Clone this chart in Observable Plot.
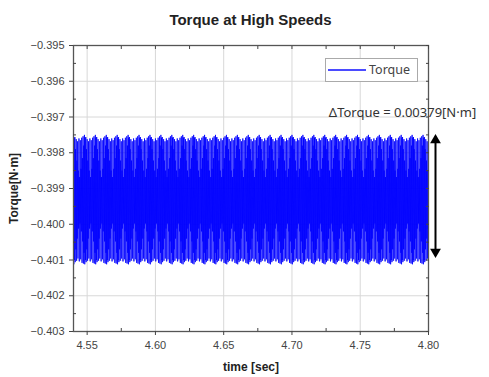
<!DOCTYPE html>
<html><head><meta charset="utf-8">
<script src="https://cdn.jsdelivr.net/npm/d3@7"></script>
<script src="https://cdn.jsdelivr.net/npm/@observablehq/plot@0.6"></script>
<style>
body{margin:0;background:#fff;}
#wrap{position:relative;width:489px;height:377px;font-family:"Liberation Sans",Arial,sans-serif;overflow:hidden;}
#title{height:36px;line-height:40px;text-align:center;padding-left:12px;font-weight:bold;font-size:15px;color:#222;box-sizing:border-box;}
#legend{position:absolute;left:325px;top:58px;width:93px;height:24px;border:1px solid #aaa;background:#fff;box-sizing:border-box;}
#legend .ln{position:absolute;left:2px;top:10px;width:38px;height:2px;background:#4b4bff;}
#legend .tx{position:absolute;left:43px;top:2px;font-family:"Noto Sans",sans-serif;font-size:12.5px;color:#444;line-height:18px;}
g[aria-label="x-axis label"] text, g[aria-label="y-axis label"] text{font-weight:bold;fill:#222;font-size:12px;}
</style></head>
<body>
<div id="wrap">
<div id="title">Torque at High Speeds</div>
<div id="chart"></div>
<div id="legend"><div class="ln"></div><div class="tx">Torque</div></div>
</div>
<script>
// axis ticks
const xMajor = [4.55, 4.60, 4.65, 4.70, 4.75, 4.80];
const xMinor = [4.575, 4.625, 4.675, 4.725, 4.775];
const yMajor = [-0.395, -0.396, -0.397, -0.398, -0.399, -0.400, -0.401, -0.402, -0.403];
const yMinor = [-0.3955, -0.3965, -0.3975, -0.3985, -0.3995, -0.4005, -0.4015, -0.4025];

// one repeating ripple cycle (successive peaks and troughs, N·m)
const cyclePeaks   = [-0.39750, -0.39758, -0.39756, -0.39790, -0.39762, -0.39822, -0.39768, -0.39850,
                      -0.39760, -0.39868, -0.39765, -0.39845, -0.39758, -0.39815, -0.39754, -0.39780];
const cycleTroughs = [-0.40112, -0.40100, -0.40106, -0.40070, -0.40102, -0.40040, -0.40096, -0.40012,
                      -0.40104, -0.39998, -0.40098, -0.40020, -0.40108, -0.40048, -0.40110, -0.40080];
const sampleStep = 0.00025;   // s between successive peak / trough samples
const tStart = 4.540, tEnd = 4.800;

// annotation
const deltaLabel = "ΔTorque = 0.00379[N·m]";
const arrowTop = -0.39748, arrowBottom = -0.40094;

const data = [];
{
  let k = 0;
  for (let t = tStart; t <= tEnd + 1e-9; t += sampleStep, k++) {
    const j = Math.floor(k / 2) % cyclePeaks.length;
    data.push({t, v: k % 2 === 0 ? cyclePeaks[j] : cycleTroughs[j]});
  }
}

const chart = Plot.plot({
  width: 489, height: 341,
  marginTop: 9, marginBottom: 46, marginLeft: 73, marginRight: 61,
  style: {fontFamily: "Liberation Sans, Arial, sans-serif", fontSize: "11px", color: "#444", background: "transparent", overflow: "visible"},
  x: {domain: [tStart, tEnd]},
  y: {domain: [-0.403, -0.395]},
  marks: [
    Plot.gridX(xMajor, {stroke: "#d8d8d8", strokeOpacity: 1}),
    Plot.gridY(yMajor, {stroke: "#d8d8d8", strokeOpacity: 1}),
    Plot.line(data, {x: "t", y: "v", stroke: "#0000ff", strokeWidth: 0.8}),
    Plot.frame({stroke: "#555", strokeWidth: 1.3}),
    Plot.axisX(xMajor, {tickSize: 4, tickPadding: 6, tickFormat: d3.format(".2f"), label: "time [sec]", labelAnchor: "center", labelOffset: 39, labelArrow: "none"}),
    Plot.axisX(xMinor, {tickSize: 3, dy: -3, text: null, label: null}),
    Plot.axisX(xMajor.concat(xMinor), {anchor: "top", tickSize: 3, dy: 3, text: null, label: null}),
    Plot.axisY(yMajor, {tickSize: 4, tickPadding: 5, tickFormat: d3.format(".3f"), label: "Torque[N·m]", labelAnchor: "center", labelOffset: 64, labelArrow: "none"}),
    Plot.axisY(yMinor, {tickSize: 3, dx: 3, text: null, label: null}),
    Plot.axisY(yMajor.concat(yMinor), {anchor: "right", tickSize: 3, dx: -3, text: null, label: null}),
    Plot.ruleX([tEnd], {y1: arrowTop, y2: arrowBottom, dx: 7, stroke: "#000", strokeWidth: 2, insetTop: 6, insetBottom: 6}),
    Plot.dot([arrowTop], {x: tEnd, y: d => d, dx: 7, dy: 6, symbol: "triangle", r: 4, fill: "#000", stroke: "none"}),
    Plot.dot([arrowBottom], {x: tEnd, y: d => d, dx: 7, dy: -6, symbol: "triangle", r: 4, fill: "#000", stroke: "none", rotate: 180}),
    Plot.text([deltaLabel], {x: tEnd, y: -0.39688, text: d => d, dx: -26, textAnchor: "middle", fontFamily: "Noto Sans, sans-serif", fontSize: 13, fill: "#333"})
  ]
});
document.getElementById("chart").appendChild(chart);
</script>
</body></html>
